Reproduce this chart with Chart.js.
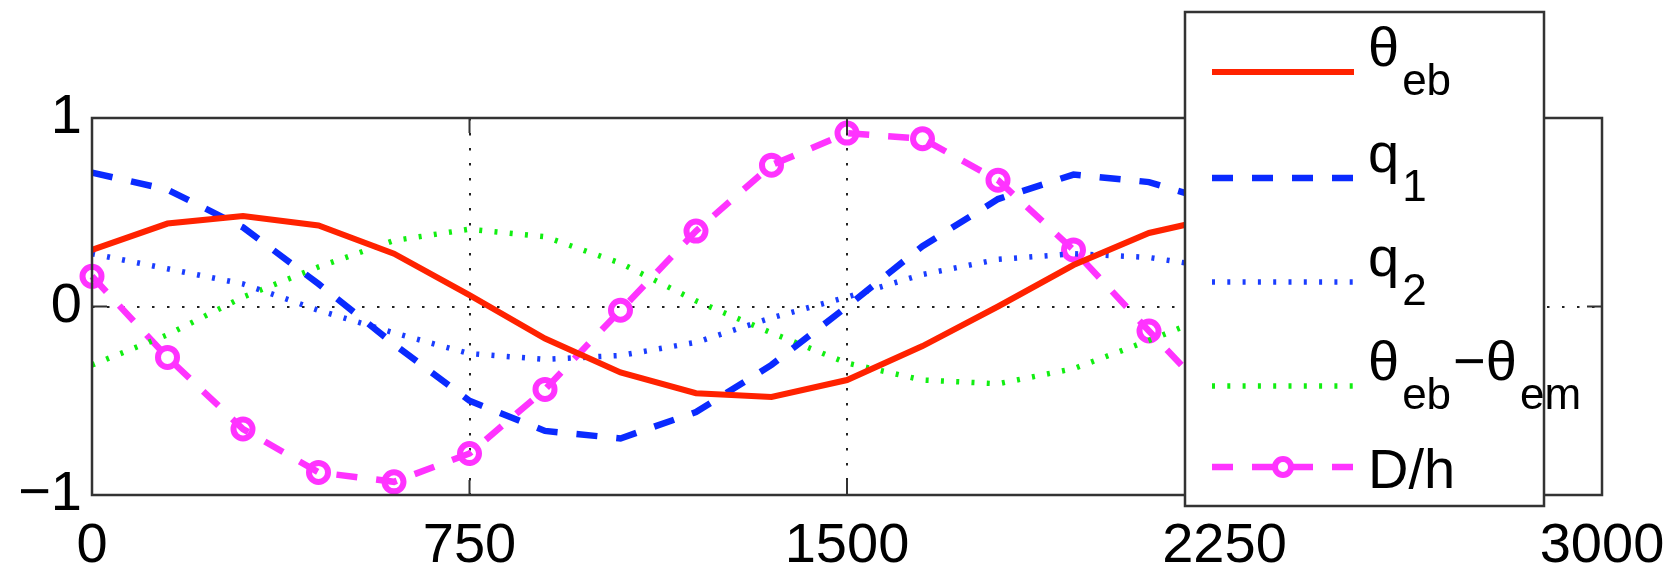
<!DOCTYPE html>
<html>
<head>
<meta charset="utf-8">
<script src="https://cdn.jsdelivr.net/npm/chart.js@4.4.0/dist/chart.umd.min.js"></script>
<style>
  html, body { margin: 0; padding: 0; background: #fff; }
</style>
</head>
<body>
<canvas id="chart" width="1678" height="573"></canvas>
<script>
// sample positions along x (every 150)
const distance = [0, 150, 300, 450, 600, 750, 900, 1050, 1200, 1350, 1500, 1650, 1800, 1950, 2100, 2250];

// series
const thetaEb = [0.30, 0.44, 0.48, 0.43, 0.28, 0.06, -0.17, -0.35, -0.46, -0.48, -0.39, -0.21, 0.00, 0.22, 0.39, 0.48];
const q1 = [0.71, 0.62, 0.42, 0.12, -0.20, -0.50, -0.66, -0.70, -0.56, -0.31, 0.00, 0.32, 0.57, 0.70, 0.66, 0.54];
const q2 = [0.28, 0.20, 0.12, -0.02, -0.14, -0.25, -0.28, -0.26, -0.19, -0.06, 0.05, 0.17, 0.25, 0.28, 0.26, 0.20];
const thetaDiff = [-0.31, -0.15, 0.05, 0.21, 0.35, 0.41, 0.37, 0.23, 0.03, -0.14, -0.30, -0.39, -0.41, -0.33, -0.18, -0.02];
const dOverH = [0.16, -0.27, -0.65, -0.88, -0.93, -0.78, -0.44, -0.02, 0.40, 0.75, 0.92, 0.89, 0.67, 0.30, -0.13, -0.55];

// tick values
const xTicks = [0, 750, 1500, 2250, 3000];
const yTicks = [-1, 0, 1];

// legend labels as text pieces (sub = subscript)
const legendLabels = [
  [['θ'], ['eb', 1]],
  [['q'], ['1', 1]],
  [['q'], ['2', 1]],
  [['θ'], ['eb', 1], ['−θ'], ['em', 1]],
  [['D/h']]
];

const FONT = "'Liberation Sans', Arial, Helvetica, sans-serif";

function pts(ys) {
  return ys.map((v, i) => ({ x: distance[i], y: v }));
}

const datasets = [
  { data: pts(thetaEb), borderColor: '#ff2200', borderWidth: 6, borderDash: [], pointRadius: 0 },
  { data: pts(q1), borderColor: '#0a2aff', borderWidth: 6.5, borderDash: [21, 19], pointRadius: 0 },
  { data: pts(q2), borderColor: '#1a3dff', borderWidth: 5.5, borderDash: [3, 12.3], pointRadius: 0 },
  { data: pts(thetaDiff), borderColor: '#11ee11', borderWidth: 5.5, borderDash: [3, 12.3], pointRadius: 0 },
  { data: pts(dOverH), borderColor: '#ff33ff', borderWidth: 6.5, borderDash: [21, 19],
    pointRadius: 9.5, pointBorderWidth: 6, pointBorderColor: '#ff33ff',
    pointBackgroundColor: 'rgba(0,0,0,0)' }
];
datasets.forEach(d => { d.tension = 0; d.fill = false; d.clip = false; d.borderCapStyle = 'butt'; });

// axes box with inward ticks + legend drawn on top of the plot
const frame = {
  id: 'frame',
  afterDatasetsDraw(chart) {
    const { ctx, chartArea: a, scales: { x, y } } = chart;
    ctx.save();
    ctx.strokeStyle = '#333';
    ctx.lineWidth = 2.5;
    ctx.strokeRect(a.left, a.top, a.right - a.left, a.bottom - a.top);
    ctx.lineWidth = 2;
    ctx.beginPath();
    xTicks.forEach(v => {
      const px = x.getPixelForValue(v);
      ctx.moveTo(px, a.bottom); ctx.lineTo(px, a.bottom - 15);
      ctx.moveTo(px, a.top); ctx.lineTo(px, a.top + 15);
    });
    yTicks.forEach(v => {
      const py = y.getPixelForValue(v);
      ctx.moveTo(a.left, py); ctx.lineTo(a.left + 15, py);
      ctx.moveTo(a.right, py); ctx.lineTo(a.right - 15, py);
    });
    ctx.stroke();
    ctx.restore();
  },
  afterDraw(chart) {
    const ctx = chart.ctx;
    const box = { l: 1185, t: 12, r: 1544, b: 506 };
    const rows = [72, 178, 282, 386, 467];
    ctx.save();
    ctx.fillStyle = '#fff';
    ctx.fillRect(box.l, box.t, box.r - box.l, box.b - box.t);
    ctx.strokeStyle = '#333';
    ctx.lineWidth = 2.5;
    ctx.strokeRect(box.l, box.t, box.r - box.l, box.b - box.t);

    chart.data.datasets.forEach((ds, i) => {
      const yy = rows[i];
      ctx.save();
      ctx.strokeStyle = ds.borderColor;
      ctx.lineWidth = ds.borderWidth;
      ctx.lineCap = 'butt';
      ctx.setLineDash(ds.borderDash);
      ctx.beginPath();
      ctx.moveTo(1212, yy); ctx.lineTo(1354, yy);
      ctx.stroke();
      if (ds.pointRadius) {
        ctx.setLineDash([]);
        ctx.fillStyle = '#fff';
        ctx.lineWidth = ds.pointBorderWidth;
        ctx.beginPath();
        ctx.arc(1283, yy, 8, 0, Math.PI * 2);
        ctx.fill();
        ctx.stroke();
      }
      ctx.restore();

      const parts = legendLabels[i];
      const hasSub = parts.some(p => p[1]);
      const base = hasSub ? yy - 6 : yy + 21;
      let tx = 1368;
      ctx.fillStyle = '#000';
      ctx.textBaseline = 'alphabetic';
      ctx.textAlign = 'left';
      parts.forEach(p => {
        if (p[1]) {
          ctx.font = '44px ' + FONT;
          tx += 3;
          ctx.fillText(p[0], tx, base + 29);
        } else {
          ctx.font = '56px ' + FONT;
          ctx.fillText(p[0], tx, base);
        }
        tx += ctx.measureText(p[0]).width + (p[1] ? 2 : 0);
      });
    });
    ctx.restore();
  }
};

const tickFont = { family: FONT, size: 56 };

new Chart(document.getElementById('chart'), {
  type: 'line',
  data: { datasets: datasets },
  options: {
    responsive: false,
    animation: false,
    layout: { padding: { top: 118, right: 76, left: 0, bottom: 0 } },
    plugins: { legend: { display: false }, tooltip: { enabled: false } },
    scales: {
      x: {
        type: 'linear', min: 0, max: 3000,
        afterBuildTicks: s => { s.ticks = xTicks.map(v => ({ value: v })); },
        afterFit: s => { s.height = 78; s.paddingLeft = 0; s.paddingRight = 0; },
        ticks: { font: tickFont, color: '#000', padding: 18, maxRotation: 0,
                 callback: v => String(v) },
        grid: { color: '#222', lineWidth: 2, drawTicks: false, borderDash: [2.5, 12.5] },
        border: { display: false, dash: [2.5, 12.5] }
      },
      y: {
        min: -1, max: 1,
        afterBuildTicks: s => { s.ticks = yTicks.map(v => ({ value: v })); },
        afterFit: s => { s.width = 92; s.paddingTop = 0; s.paddingBottom = 0; },
        ticks: { font: tickFont, color: '#000', padding: 10,
                 callback: v => String(v).replace('-', '−') },
        grid: { color: '#222', lineWidth: 2, drawTicks: false, borderDash: [2.5, 12.5] },
        border: { display: false, dash: [2.5, 12.5] }
      }
    }
  },
  plugins: [frame]
});
</script>
</body>
</html>
